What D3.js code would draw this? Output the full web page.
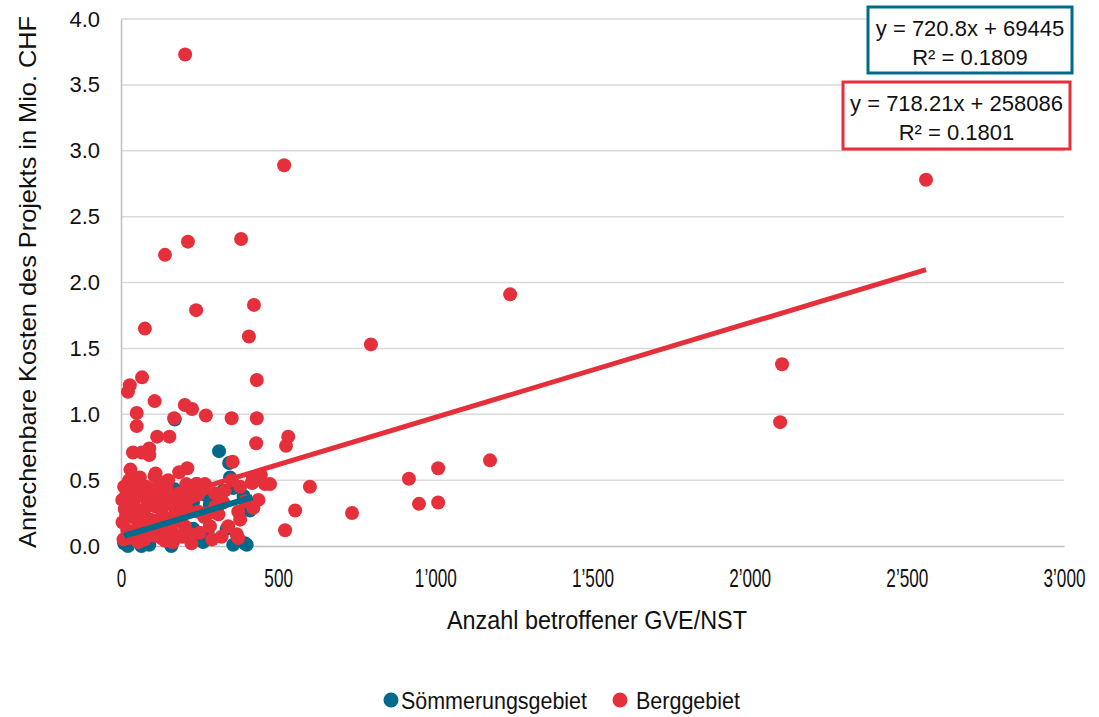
<!DOCTYPE html>
<html>
<head>
<meta charset="utf-8">
<script src="https://cdn.jsdelivr.net/npm/d3@7"></script>
<style>
  body { margin: 0; background: #fff; }
  text { font-family: "Liberation Sans", Arial, sans-serif; fill: #111; }
</style>
</head>
<body>
<script>

// data: Anzahl GVE/NST (x), Kosten in Mio. CHF (y)
var soemX = [171, 312, 344, 22, 65, 160, 171, 192, 229, 347, 267, 325, 357, 283, 230, 257, 357, 394,
             336, 230, 261, 400, 283, 356, 10, 40, 90, 120, 140, 200, 240, 305, 390, 410, 80, 275, 418];
var soemY = [0.96, 0.72, 0.63, 0.00, 0.00, 0.00, 0.43, 0.40, 0.33, 0.52, 0.39, 0.42, 0.44, 0.31, 0.13, 0.04, 0.01, 0.02,
             0.13, 0.04, 0.03, 0.01, 0.35, 0.45, 0.02, 0.05, 0.01, 0.08, 0.20, 0.25, 0.47, 0.28, 0.38, 0.27, 0.15, 0.10, 0.48];

var bergX = [204, 519, 2561, 140, 213, 382, 1238, 423, 239, 76, 407, 795, 2103, 67, 432, 28, 22, 107, 203, 226,
             50, 270, 169, 352, 432, 2097, 50, 115, 154, 532, 525, 430, 1174, 1009, 38, 66, 90, 90, 211, 355,
             601, 916, 554, 735, 948, 1009, 522, 474,
             28, 107, 128, 208, 17, 65, 150, 181, 12, 75, 134, 171, 5, 54, 118, 150, 203, 22, 75, 128, 181, 224,
             16, 241, 267, 299, 352, 379, 416, 458, 437, 325, 246, 310, 373, 421, 283, 341, 368, 220, 320, 373,
             315, 379, 445, 420, 26, 4, 215, 245, 100, 40, 95, 45, 190, 265, 300, 330, 395,
             8, 14, 20, 30, 35, 45, 55, 60, 70, 80, 85, 95, 105, 110, 125, 130, 140, 145, 160, 165,
             175, 185, 195, 210, 230, 250, 260, 280, 290, 60, 30, 110, 150, 185, 10, 50, 90, 135, 165, 200];
var bergY = [3.73, 2.89, 2.78, 2.21, 2.31, 2.33, 1.91, 1.83, 1.79, 1.65, 1.59, 1.53, 1.38, 1.28, 1.26, 1.22, 1.17, 1.10, 1.07, 1.04,
             1.01, 0.99, 0.97, 0.97, 0.97, 0.94, 0.91, 0.83, 0.83, 0.83, 0.76, 0.78, 0.65, 0.59, 0.71, 0.71, 0.74, 0.69, 0.59, 0.64,
             0.45, 0.51, 0.27, 0.25, 0.32, 0.33, 0.12, 0.47,
             0.49, 0.53, 0.48, 0.47, 0.39, 0.40, 0.39, 0.35, 0.28, 0.28, 0.30, 0.24, 0.18, 0.18, 0.20, 0.15, 0.15, 0.06, 0.05, 0.06, 0.07, 0.02,
             0.23, 0.47, 0.47, 0.40, 0.50, 0.45, 0.48, 0.47, 0.35, 0.33, 0.26, 0.24, 0.26, 0.29, 0.15, 0.15, 0.09, 0.09, 0.07, 0.06,
             0.35, 0.20, 0.54, 0.52, 0.50, 0.35, 0.36, 0.39, 0.43, 0.30, 0.12, 0.10, 0.28, 0.22, 0.30, 0.42, 0.34,
             0.05, 0.33, 0.12, 0.42, 0.22, 0.36, 0.03, 0.25, 0.14, 0.45, 0.33, 0.20, 0.08, 0.30, 0.40, 0.13, 0.04, 0.45, 0.32, 0.10,
             0.19, 0.40, 0.07, 0.28, 0.38, 0.10, 0.43, 0.25, 0.05, 0.52, 0.58, 0.55, 0.50, 0.56, 0.45, 0.47, 0.37, 0.22, 0.03, 0.33];

// trendlines as given in the chart (CHF)
var soemFit = {slope: 720.8, intercept: 69445, r2: "0.1809", label: "y = 720.8x + 69445"};
var bergFit = {slope: 718.21, intercept: 258086, r2: "0.1801", label: "y = 718.21x + 258086"};

var xTicks = [0, 500, 1000, 1500, 2000, 2500, 3000];
var yTicks = [0, 0.5, 1, 1.5, 2, 2.5, 3, 3.5, 4];
var seriesNames = ["Sömmerungsgebiet", "Berggebiet"];

var blue = "#006a8a", red = "#e5303b";

var W = 1099, H = 717;
var margin = {top: 19, right: 35, bottom: 171, left: 121},
    width = W - margin.left - margin.right,
    height = H - margin.top - margin.bottom;

var svg = d3.select("body").append("svg")
    .attr("width", W)
    .attr("height", H);

var g = svg.append("g")
    .attr("transform", "translate(" + margin.left + "," + margin.top + ")");

var x = d3.scaleLinear().domain([0, 3000]).range([0, width]);
var y = d3.scaleLinear().domain([0, 4]).range([height, 0]);

// gridlines
g.selectAll(".grid").data(yTicks.slice(1)).enter().append("line")
    .attr("x1", 0).attr("x2", width)
    .attr("y1", function(d) { return y(d); })
    .attr("y2", function(d) { return y(d); })
    .attr("stroke", "#d9d9d9").attr("stroke-width", 1.5);

// axes
var xAxis = g.append("g")
    .attr("transform", "translate(0," + height + ")")
    .call(d3.axisBottom(x).tickValues(xTicks).tickSize(0).tickPadding(23)
      .tickFormat(function(d) { return d3.format(",")(d).replace(",", "\u2019"); }));
xAxis.select(".domain").attr("stroke", "#bfbfbf").attr("stroke-width", 1.5);
// condensed look
xAxis.selectAll("text").style("font-size", "26px").attr("fill", "#111")
    .attr("transform", "scale(0.66,1)");

var yAxis = g.append("g")
    .call(d3.axisLeft(y).tickValues(yTicks).tickSize(0).tickPadding(21)
      .tickFormat(d3.format(".1f")));
yAxis.select(".domain").attr("stroke", "#bfbfbf").attr("stroke-width", 1.5);
yAxis.selectAll("text").style("font-size", "22px").attr("fill", "#111");

// axis titles
svg.append("text")
    .attr("x", 597)
    .attr("y", 629)
    .attr("text-anchor", "middle")
    .attr("textLength", 300).attr("lengthAdjust", "spacingAndGlyphs")
    .style("font-size", "25px")
    .text("Anzahl betroffener GVE/NST");

svg.append("text")
    .attr("transform", "translate(36,282) rotate(-90)")
    .attr("text-anchor", "middle")
    .attr("textLength", 532).attr("lengthAdjust", "spacingAndGlyphs")
    .style("font-size", "24px")
    .text("Anrechenbare Kosten des Projekts in Mio. CHF");

// points
function pts(xs, ys) { return xs.map(function(v, i) { return {x: v, y: ys[i]}; }); }

g.selectAll(".soem").data(pts(soemX, soemY)).enter().append("circle")
    .attr("cx", function(d) { return x(d.x); })
    .attr("cy", function(d) { return y(d.y); })
    .attr("r", 7)
    .attr("fill", blue);

g.selectAll(".berg").data(pts(bergX, bergY)).enter().append("circle")
    .attr("cx", function(d) { return x(d.x); })
    .attr("cy", function(d) { return y(d.y); })
    .attr("r", 7)
    .attr("fill", red);

// trendlines
function trend(xs, fit, col, w) {
  var x0 = d3.min(xs), x1 = d3.max(xs);
  var f = function(v) { return (fit.slope * v + fit.intercept) / 1e6; };
  g.append("line")
    .attr("x1", x(x0)).attr("y1", y(f(x0)))
    .attr("x2", x(x1)).attr("y2", y(f(x1)))
    .attr("stroke", col).attr("stroke-width", w);
}
trend(bergX, bergFit, red, 5);
trend(soemX, soemFit, blue, 6);

// equation boxes
function eqBox(fit, col, bx, by, bw, bh) {
  svg.append("rect")
    .attr("x", bx).attr("y", by).attr("width", bw).attr("height", bh)
    .attr("fill", "#fff").attr("stroke", col).attr("stroke-width", 3);
  svg.append("text")
    .attr("x", bx + bw / 2).attr("y", by + 29)
    .attr("text-anchor", "middle").style("font-size", "22px")
    .text(fit.label);
  svg.append("text")
    .attr("x", bx + bw / 2).attr("y", by + 58)
    .attr("text-anchor", "middle").style("font-size", "22px")
    .text("R\u00b2 = " + fit.r2);
}
eqBox(soemFit, blue, 868, 7, 204, 66);
eqBox(bergFit, red, 843, 82, 227, 67);

// legend
var legend = svg.append("g");
var lx = [391, 620], tx = [401, 636], tl = [186, 104];
seriesNames.forEach(function(name, i) {
  legend.append("circle")
    .attr("cx", lx[i]).attr("cy", 700).attr("r", 7.5)
    .attr("fill", i === 0 ? blue : red);
  legend.append("text")
    .attr("x", tx[i]).attr("y", 709)
    .attr("textLength", tl[i]).attr("lengthAdjust", "spacingAndGlyphs")
    .style("font-size", "24px")
    .text(name);
});

</script>
</body>
</html>
